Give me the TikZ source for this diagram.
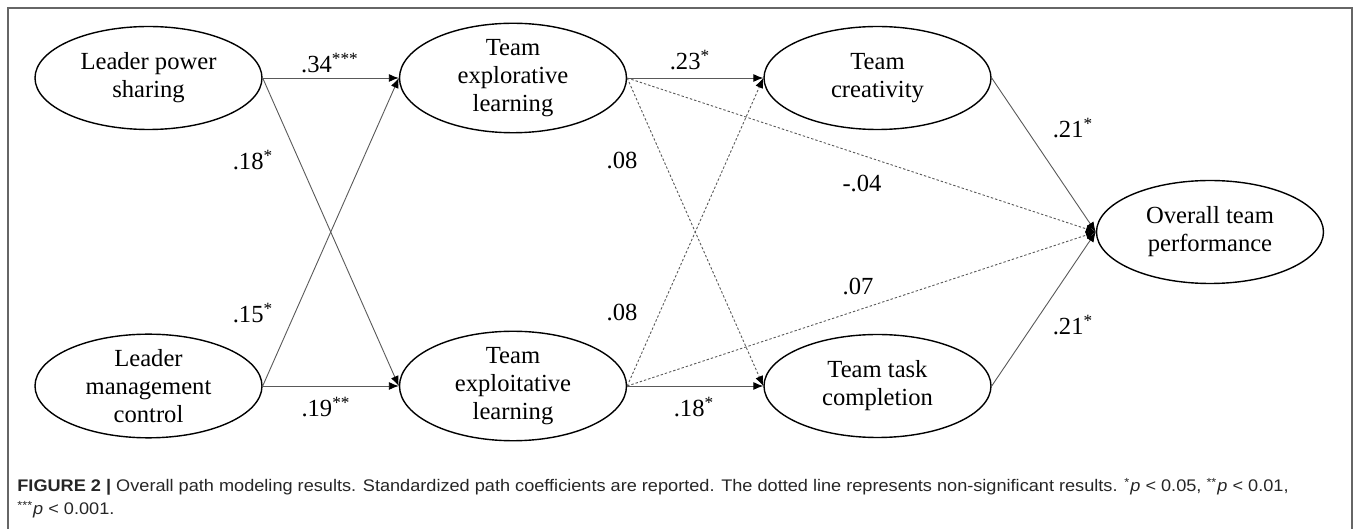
\documentclass[tikz,border=0pt]{standalone}
\usepackage{fontspec}
\setmainfont{Liberation Serif}
\newfontfamily\capfont{Liberation Sans}[FakeStretch=1.08]
\usetikzlibrary{shapes.geometric,arrows.meta}

\tikzstyle{latent} = [ellipse, draw, line width=0.7pt, minimum width=113.5pt, minimum height=51.5pt, inner sep=0pt, align=center, font=\fontsize{12.3}{14}\selectfont]
\tikzstyle{sig} = [draw=black!65, line width=0.45pt, -{Latex[length=5pt,width=4pt,color=black]}]
\tikzstyle{nonsig} = [sig, dash pattern=on 1.2pt off 1pt]
\tikzstyle{coef} = [inner sep=0pt, font=\fontsize{12.3}{14}\selectfont]

\begin{document}
\begin{tikzpicture}[x=0.5pt, y=-0.5pt]
\useasboundingbox (0,0) rectangle (1357,529);
\draw[black!60, line width=0.8pt] (8,529) -- (8,8) -- (1352,8) -- (1352,529);

\node[latent] (lps) at (148.5,78) {Leader power\\sharing};
\node[latent] (lmc) at (148.5,386) {Leader\\management\\control};
\node[latent] (tel) at (513,78) {Team\\explorative\\learning};
\node[latent] (txl) at (513,386) {Team\\exploitative\\learning};
\node[latent] (tc) at (877.5,78) {Team\\creativity};
\node[latent] (ttc) at (877.5,386) {Team task\\completion};
\node[latent] (otp) at (1210,232) {Overall team\\performance};

\draw[sig] (lps.east) -- (tel.west);
\draw[sig] (lps.east) -- (txl.west);
\draw[sig] (lmc.east) -- (tel.west);
\draw[sig] (lmc.east) -- (txl.west);
\draw[sig] (tel.east) -- (tc.west);
\draw[nonsig] (tel.east) -- (ttc.west);
\draw[nonsig] (tel.east) -- (otp.west);
\draw[nonsig] (txl.east) -- (tc.west);
\draw[sig] (txl.east) -- (ttc.west);
\draw[nonsig] (txl.east) -- (otp.west);
\draw[sig] (tc.east) -- (otp.west);
\draw[sig] (ttc.east) -- (otp.west);

\node[coef] (b1) at (330,63) {.34\textsuperscript{***}};
\node[coef] (b2) at (253,160) {.18\textsuperscript{*}};
\node[coef] (b3) at (253,313) {.15\textsuperscript{*}};
\node[coef] (b4) at (326,407) {.19\textsuperscript{**}};
\node[coef] (b5) at (690,60) {.23\textsuperscript{*}};
\node[coef] (b6) at (622,160) {.08};
\node[coef] (b7) at (862,183) {-.04};
\node[coef] (b8) at (622,312) {.08};
\node[coef] (b9) at (858,286) {.07};
\node[coef] (b10) at (694,407) {.18\textsuperscript{*}};
\node[coef] (b11) at (1073,128) {.21\textsuperscript{*}};
\node[coef] (b12) at (1073,325) {.21\textsuperscript{*}};

\node[anchor=base west, inner sep=0pt, align=left, text=black!85, font=\capfont\fontsize{8.4}{11.5}\selectfont] (caption) at (17,515)
  {{\bfseries FIGURE 2 |} Overall path modeling results. Standardized path coefficients are reported. The dotted line represents non-significant results. \textsuperscript{*}\textit{p} < 0.05, \textsuperscript{**}\textit{p} < 0.01,\\
   \textsuperscript{***}\textit{p} < 0.001.};
\end{tikzpicture}
\end{document}
